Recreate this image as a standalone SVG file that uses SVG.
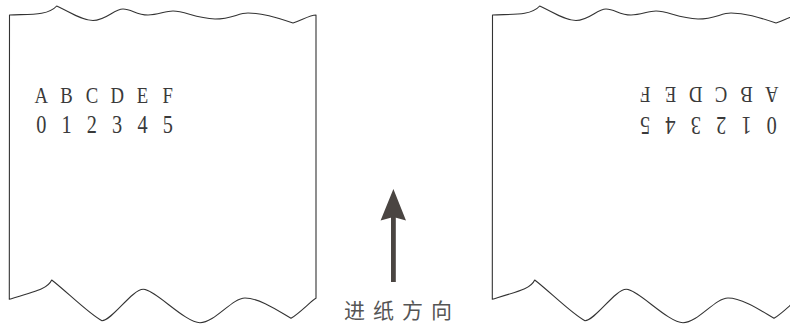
<svg xmlns="http://www.w3.org/2000/svg" width="790" height="324" viewBox="0 0 790 324">
<style>
.paper{fill:#fff;stroke:#333;stroke-width:1.1;stroke-linejoin:round}
.chars{font-family:"Liberation Serif","DejaVu Serif",serif;fill:#3a3a3a;text-anchor:middle}
.lbl{font-family:"Noto Sans CJK SC","Noto Sans",sans-serif;font-size:21px;fill:#555;letter-spacing:8px}
</style>
<defs>
<path id="paperShape" d="M9.5,15 C28,14 48,16 56.7,6 C70,12 82,20.5 93,20.5 C106,20.5 114,9 123,9 C132,9 136,15 148,15 C158,15 165,11 173,11 C185,11 195,18 215,19 C232,19 238,13 248,13 C262,13 275,17 293,23 C302,20 310,15 316,15 L316,298.3 C312,300 300,313 291,318.3 C280,312 260,298 245,298 C232,298 215,322.7 200,322.7 C185,322.7 155,289.3 143.3,289.3 C132,289.3 112,320.7 102,320.7 C90,315 65,290 51.7,280 C48,288 40,290 9.3,299.3 Z"/>
</defs>
<g id="paper-left">
<use href="#paperShape" class="paper"/>
<text class="chars" font-size="24" transform="scale(0.78 1)" x="52.95 85.38 117.82 150.26 182.69 215.13" y="103.3">ABCDEF</text>
<text class="chars" font-size="26" transform="scale(0.78 1)" x="52.95 85.38 117.82 150.26 182.69 215.13" y="133.3">012345</text>
</g>
<g id="paper-right">
<use href="#paperShape" class="paper" transform="translate(483 0)"/>
<g transform="rotate(180 709.2 95.3)">
<text class="chars" font-size="24" transform="scale(0.78 1)" x="829.1 861.5 894.0 926.4 958.8 991.3" y="103.3">ABCDEF</text>
</g>
<g transform="rotate(180 709.2 124.9)">
<text class="chars" font-size="26" transform="scale(0.78 1)" x="829.1 861.5 894.0 926.4 958.8 991.3" y="133.3">012345</text>
</g>
</g>
<g id="connectors">
<rect x="391" y="214" width="4.8" height="68" fill="#4a4542"/>
<path d="M393.4,189 L406,220.5 L393.4,217 L380.6,220.5 Z" fill="#4a4542"/>
</g>
<g id="label">
<text class="lbl" x="344" y="318">进纸方向</text>
</g>
</svg>
